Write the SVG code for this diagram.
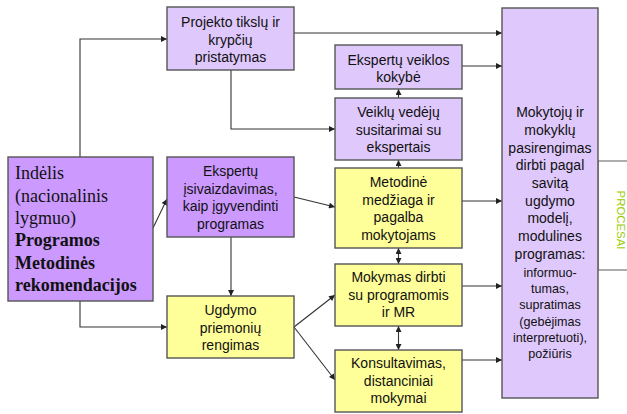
<svg xmlns="http://www.w3.org/2000/svg" width="627" height="414" viewBox="0 0 627 414">
<style>
.box{stroke:#555;stroke-width:1.4}
.lav{fill:#dfc8fb}
.pur{fill:#cc99ff}
.yel{fill:#ffff99}
.t{font-family:"Liberation Sans",Arial,sans-serif;font-size:14px;fill:#111;text-anchor:middle}
.s{font-size:12.6px}
.ser{font-family:"Liberation Serif","Times New Roman",serif;font-size:18px;fill:#111}
.b{font-weight:bold}
.c{fill:none;stroke:#333;stroke-width:1.1}
</style>
<defs>
<marker id="ah" viewBox="0 0 10 10" refX="10" refY="5" markerWidth="7" markerHeight="6" markerUnits="userSpaceOnUse" orient="auto-start-reverse">
<path d="M0,0 L10,5 L0,10 z" fill="#222"/>
</marker>
</defs>
<rect width="627" height="414" fill="#fff"/>
<g id="connectors">
<polyline class="c" points="80,157 80,39 167,39" marker-end="url(#ah)"/>
<line class="c" x1="294" y1="33" x2="502" y2="33" marker-end="url(#ah)"/>
<polyline class="c" points="231,70 231,129 335,129" marker-end="url(#ah)"/>
<line class="c" x1="398.5" y1="98" x2="398.5" y2="89" marker-end="url(#ah)"/>
<line class="c" x1="462" y1="66" x2="502" y2="66" marker-end="url(#ah)"/>
<line class="c" x1="398.5" y1="168" x2="398.5" y2="160" marker-end="url(#ah)"/>
<line class="c" x1="462" y1="201" x2="502" y2="201" marker-end="url(#ah)"/>
<line class="c" x1="398.5" y1="248" x2="398.5" y2="264" marker-start="url(#ah)" marker-end="url(#ah)"/>
<line class="c" x1="462" y1="286" x2="502" y2="286" marker-end="url(#ah)"/>
<line class="c" x1="398.5" y1="326" x2="398.5" y2="350" marker-start="url(#ah)" marker-end="url(#ah)"/>
<line class="c" x1="462" y1="360" x2="502" y2="360" marker-end="url(#ah)"/>
<line class="c" x1="153" y1="228" x2="167" y2="199" marker-end="url(#ah)"/>
<line class="c" x1="294" y1="197" x2="335" y2="207" marker-end="url(#ah)"/>
<line class="c" x1="231" y1="237" x2="231" y2="296" marker-end="url(#ah)"/>
<polyline class="c" points="80,301 80,327 167,327" marker-end="url(#ah)"/>
<line class="c" x1="294" y1="327" x2="335" y2="295" marker-end="url(#ah)"/>
<line class="c" x1="294" y1="327" x2="335" y2="380" marker-end="url(#ah)"/>
</g>
<g id="procesai">
<rect x="598" y="161" width="40" height="109" fill="#fff" stroke="#777" stroke-width="1.2"/>
<text transform="translate(616.5,220) rotate(90)" font-family="'Liberation Sans',Arial,sans-serif" font-size="11.4" fill="#99cc00" text-anchor="middle">PROCESAI</text>
</g>
<g id="projekto">
<rect class="box lav" x="167" y="7" width="127" height="63"/>
<text class="t" x="230.5" y="27">Projekto tikslų ir</text>
<text class="t" x="230.5" y="44.5">krypčių</text>
<text class="t" x="230.5" y="62">pristatymas</text>
</g>
<g id="kokybe">
<rect class="box lav" x="335" y="45" width="127" height="44"/>
<text class="t" x="398.5" y="64.5">Ekspertų veiklos</text>
<text class="t" x="398.5" y="82">kokybė</text>
</g>
<g id="susitarimai">
<rect class="box lav" x="335" y="98" width="127" height="62"/>
<text class="t" x="398.5" y="117">Veiklų vedėjų</text>
<text class="t" x="398.5" y="134.5">susitarimai su</text>
<text class="t" x="398.5" y="152">ekspertais</text>
</g>
<g id="mokytoju">
<rect class="box lav" x="502" y="8" width="96" height="390"/>
<text class="t" x="550" y="117">Mokytojų ir</text>
<text class="t" x="550" y="135">mokyklų</text>
<text class="t" x="550" y="152.5">pasirengimas</text>
<text class="t" x="550" y="170">dirbti pagal</text>
<text class="t" x="550" y="187.5">savitą</text>
<text class="t" x="550" y="205.5">ugdymo</text>
<text class="t" x="550" y="223">modelį,</text>
<text class="t" x="550" y="241">modulines</text>
<text class="t" x="550" y="258.5">programas:</text>
<text class="t s" x="550" y="276.5">informuo-</text>
<text class="t s" x="550" y="293">tumas,</text>
<text class="t s" x="550" y="309">supratimas</text>
<text class="t s" x="550" y="325.5">(gebėjimas</text>
<text class="t s" x="550" y="342">interpretuoti),</text>
<text class="t s" x="550" y="358">požiūris</text>
</g>
<g id="indelis">
<rect class="box pur" x="8" y="157" width="145" height="144"/>
<text class="ser" x="15" y="179">Indėlis</text>
<text class="ser" x="15" y="201.5">(nacionalinis</text>
<text class="ser" x="15" y="224">lygmuo)</text>
<text class="ser b" x="15" y="246">Programos</text>
<text class="ser b" x="15" y="268.5">Metodinės</text>
<text class="ser b" x="15" y="291">rekomendacijos</text>
</g>
<g id="isivaizdavimas">
<rect class="box pur" x="167" y="157" width="127" height="80"/>
<text class="t" x="230.5" y="176">Ekspertų</text>
<text class="t" x="230.5" y="193.6">įsivaizdavimas,</text>
<text class="t" x="230.5" y="211.2">kaip įgyvendinti</text>
<text class="t" x="230.5" y="228.8">programas</text>
</g>
<g id="metodine">
<rect class="box yel" x="335" y="168" width="127" height="80"/>
<text class="t" x="398.5" y="187">Metodinė</text>
<text class="t" x="398.5" y="204.6">medžiaga ir</text>
<text class="t" x="398.5" y="222.2">pagalba</text>
<text class="t" x="398.5" y="239.8">mokytojams</text>
</g>
<g id="ugdymo">
<rect class="box yel" x="167" y="296" width="127" height="62"/>
<text class="t" x="230.5" y="315">Ugdymo</text>
<text class="t" x="230.5" y="332.6">priemonių</text>
<text class="t" x="230.5" y="350">rengimas</text>
</g>
<g id="mokymas">
<rect class="box yel" x="335" y="264" width="127" height="62"/>
<text class="t" x="398.5" y="282">Mokymas dirbti</text>
<text class="t" x="398.5" y="299.5">su programomis</text>
<text class="t" x="398.5" y="317">ir MR</text>
</g>
<g id="konsultavimas">
<rect class="box yel" x="335" y="350" width="127" height="62"/>
<text class="t" x="398.5" y="368">Konsultavimas,</text>
<text class="t" x="398.5" y="385.5">distanciniai</text>
<text class="t" x="398.5" y="403">mokymai</text>
</g>
</svg>
